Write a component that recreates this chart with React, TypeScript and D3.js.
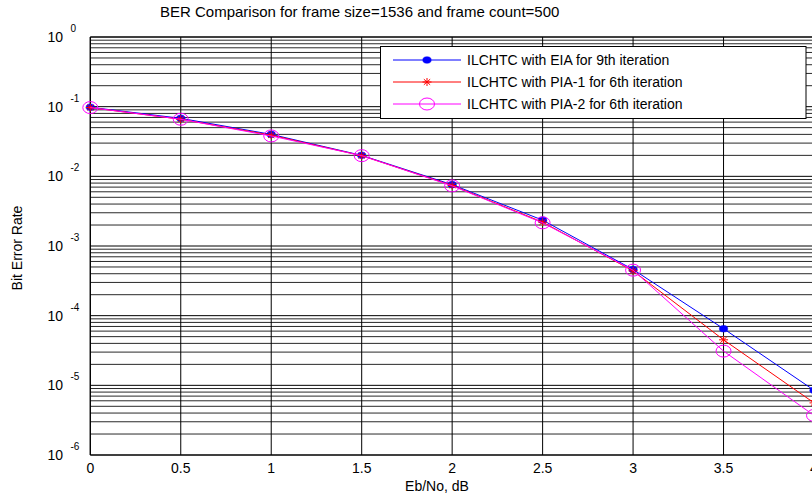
import React from "react";
import * as d3 from "d3";

const W = 812;
const H = 495;

const ebno = [0, 0.5, 1, 1.5, 2, 2.5, 3, 3.5, 4];
const berEIA = [0.098, 0.068, 0.040, 0.0200, 0.0076, 0.00235, 0.00046, 6.5e-5, 8.5e-6];
const berPIA1 = [0.097, 0.066, 0.039, 0.0198, 0.0074, 0.0022, 0.00044, 4.5e-5, 5.6e-6];
const berPIA2 = [0.097, 0.066, 0.038, 0.0198, 0.0073, 0.00215, 0.00045, 3.1e-5, 3.7e-6];

const xTicks = [0, 0.5, 1, 1.5, 2, 2.5, 3, 3.5, 4];
const xTickLabels = ["0", "0.5", "1", "1.5", "2", "2.5", "3", "3.5", "4"];
const yExponents = [0, -1, -2, -3, -4, -5, -6];

const seriesNames = [
  "ILCHTC with EIA for 9th iteration",
  "ILCHTC with PIA-1 for 6th iteration",
  "ILCHTC with PIA-2 for 6th iteration",
];
const titleText = "BER Comparison for frame size=1536 and frame count=500";
const xLabel = "Eb/No, dB";
const yLabel = "Bit Error Rate";

const FONT = "'Liberation Sans', Arial, Helvetica, sans-serif";

export default function App() {
  const left = 90.3;
  const right = 814;
  const top = 37;
  const bottom = 455;
  const x = d3.scaleLinear().domain([0, 4]).range([left, right]);
  const y = d3.scaleLog().domain([1e-6, 1]).range([bottom, top]);

  const minorVals: number[] = [];
  for (let e = -6; e < 0; e++) {
    for (let m = 2; m <= 9; m++) minorVals.push(m * Math.pow(10, e));
  }

  const line = d3
    .line<[number, number]>()
    .x((d) => x(d[0]))
    .y((d) => y(d[1]));

  const series = [
    { vals: berEIA, color: "#0000ff", marker: "dot" },
    { vals: berPIA1, color: "#ff0000", marker: "star" },
    { vals: berPIA2, color: "#ff00ff", marker: "circle" },
  ];

  const marker = (kind: string, color: string, cx: number, cy: number, key: string) => {
    if (kind === "dot")
      return <ellipse key={key} cx={cx} cy={cy} rx={4.2} ry={3.3} fill={color} stroke={color} strokeWidth={0.5} />;
    if (kind === "circle")
      return <ellipse key={key} cx={cx} cy={cy} rx={7.5} ry={6} fill="none" stroke={color} strokeWidth={1} />;
    const s = 4.5;
    const t = 4;
    return (
      <g key={key} stroke={color} strokeWidth={1}>
        <line x1={cx - s} y1={cy} x2={cx + s} y2={cy} />
        <line x1={cx} y1={cy - t} x2={cx} y2={cy + t} />
        <line x1={cx - s * 0.7} y1={cy - t * 0.7} x2={cx + s * 0.7} y2={cy + t * 0.7} />
        <line x1={cx - s * 0.7} y1={cy + t * 0.7} x2={cx + s * 0.7} y2={cy - t * 0.7} />
      </g>
    );
  };

  const legX = 380.5;
  const legY = 46.5;
  const legW = 425.5;
  const legH = 72;
  const legRows = [60, 82, 104];

  return (
    <svg
      width={W}
      height={H}
      style={{ position: "absolute", left: 0, top: 0, background: "#fff" }}
      fontFamily={FONT}
    >
      <rect x={0} y={0} width={W} height={H} fill="#fff" />
      <defs>
        <clipPath id="plotClip">
          <rect x={left - 10} y={top - 10} width={right - left + 20} height={bottom - top + 20} />
        </clipPath>
      </defs>
      {/* minor horizontal grid */}
      {minorVals.map((v, i) => (
        <line key={"mg" + i} x1={left} x2={right} y1={y(v)} y2={y(v)} stroke="#111" strokeWidth={0.9} />
      ))}
      {/* major horizontal grid */}
      {yExponents.map((e) => (
        <line key={"Mg" + e} x1={left} x2={right} y1={y(Math.pow(10, e))} y2={y(Math.pow(10, e))} stroke="#000" strokeWidth={1} />
      ))}
      {/* vertical grid */}
      {xTicks.map((t) => (
        <line key={"vg" + t} x1={x(t)} x2={x(t)} y1={top} y2={bottom} stroke="#000" strokeWidth={1} />
      ))}
      {/* axes box */}
      <line x1={left} x2={left} y1={top} y2={bottom} stroke="#000" strokeWidth={1.2} />
      <line x1={left} x2={right} y1={bottom} y2={bottom} stroke="#000" strokeWidth={1.2} />
      <line x1={left} x2={right} y1={top} y2={top} stroke="#000" strokeWidth={1.2} />

      {/* series */}
      <g clipPath="url(#plotClip)">
        {series.map((s, si) => (
          <g key={"s" + si}>
            <path
              d={line(ebno.map((e, i) => [e, s.vals[i]] as [number, number])) || ""}
              fill="none"
              stroke={s.color}
              strokeWidth={1}
            />
            {ebno.map((e, i) => marker(s.marker, s.color, x(e), y(s.vals[i]), "m" + si + "-" + i))}
          </g>
        ))}
      </g>

      {/* x tick labels */}
      {xTicks.map((t, i) => (
        <text key={"xt" + t} x={x(t)} y={473} textAnchor="middle" fontSize={14} fill="#000">
          {xTickLabels[i]}
        </text>
      ))}
      {/* y tick labels */}
      {yExponents.map((e) => {
        const yy = y(Math.pow(10, e));
        return (
          <g key={"yt" + e}>
            <text x={63} y={yy + 5} textAnchor="end" fontSize={14} fill="#000">
              10
            </text>
            <text x={70.5} y={yy - 5} textAnchor="start" fontSize={10} fill="#000">
              {String(e)}
            </text>
          </g>
        );
      })}

      {/* labels */}
      <text x={160} y={17} fontSize={15} fill="#000">
        {titleText}
      </text>
      <text x={437} y={491} textAnchor="middle" fontSize={14} fill="#000">
        {xLabel}
      </text>
      <text
        transform={`translate(22,248) rotate(-90)`}
        textAnchor="middle"
        fontSize={14}
        fill="#000"
      >
        {yLabel}
      </text>

      {/* legend */}
      <rect x={legX} y={legY} width={legW} height={legH} fill="#fff" stroke="#000" strokeWidth={1} />
      {series.map((s, i) => (
        <g key={"lg" + i}>
          <line x1={393} x2={461} y1={legRows[i]} y2={legRows[i]} stroke={s.color} strokeWidth={1} />
          {marker(s.marker, s.color, 427, legRows[i], "lm" + i)}
          <text x={467} y={legRows[i] + 5} fontSize={14} fill="#000">
            {seriesNames[i]}
          </text>
        </g>
      ))}
    </svg>
  );
}
